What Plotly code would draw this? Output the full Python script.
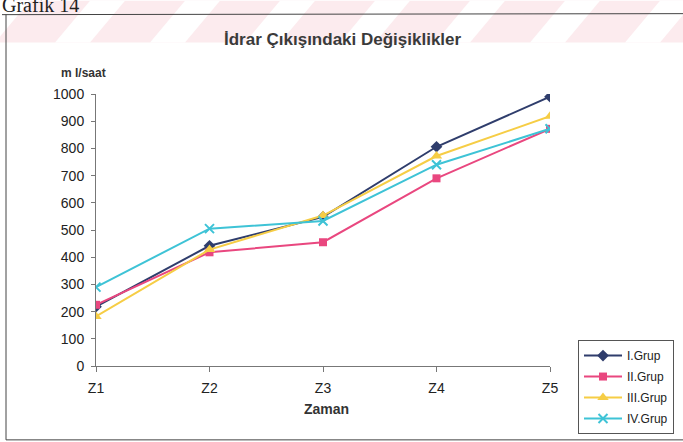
import plotly.graph_objects as go

# ---- data ----
zaman = ["Z1", "Z2", "Z3", "Z4", "Z5"]
grup_1 = [218, 442, 548, 806, 990]
grup_2 = [225, 418, 455, 690, 872]
grup_3 = [182, 428, 553, 772, 918]
grup_4 = [290, 505, 533, 740, 872]
y_ticks = [0, 100, 200, 300, 400, 500, 600, 700, 800, 900, 1000]

series = [
    ("I.Grup", grup_1, "#2f3d6c", "diamond", 9),
    ("II.Grup", grup_2, "#e9477f", "square", 8),
    ("III.Grup", grup_3, "#f6cd45", "triangle-up", 10),
    ("IV.Grup", grup_4, "#3ec3d6", "x-thin-open", 9),
]

W, H = 683, 442
L, R, T, B = 96, 550, 93.5, 366  # plot area in pixels


def px(x):
    return (x - L) / (R - L)


def py(y):
    return (B - y) / (B - T)


fig = go.Figure()
xs = list(range(len(zaman)))
for name, vals, col, sym, size in series:
    marker = dict(symbol=sym, size=size, color=col)
    if sym == "x-thin-open":
        marker["line"] = dict(color=col, width=2)
    fig.add_trace(go.Scatter(
        x=xs, y=vals, name=name, mode="lines+markers",
        line=dict(color=col, width=2), marker=marker, legendgroup=name,
    ))

shapes = []
# faint pink diagonal band across the top of the page
band = "#fcebee"
shapes.append(dict(type="rect", xref="paper", yref="paper",
                   x0=px(0), x1=px(W), y0=py(42), y1=py(0),
                   fillcolor=band, line=dict(width=0), layer="below"))
for x0 in range(-40, 700, 95):
    path = (f"M {px(x0)},{py(42)} L {px(x0 + 35)},{py(42)} "
            f"L {px(x0 + 70)},{py(0)} L {px(x0 + 35)},{py(0)} Z")
    shapes.append(dict(type="path", xref="paper", yref="paper", path=path,
                       fillcolor="white", line=dict(width=0), layer="below"))
# chart frame
frame = dict(color="#444", width=1)
shapes.append(dict(type="line", xref="paper", yref="paper",
                   x0=px(2), x1=px(W), y0=py(14), y1=py(13), line=frame))
shapes.append(dict(type="line", xref="paper", yref="paper",
                   x0=px(6), x1=px(6), y0=py(14), y1=py(440), line=frame))
shapes.append(dict(type="line", xref="paper", yref="paper",
                   x0=px(6), x1=px(W), y0=py(440), y1=py(440), line=frame))

annotations = [
    dict(text="<b>İdrar Çıkışındaki Değişiklikler</b>", x=px(343), y=py(39),
         xref="paper", yref="paper", showarrow=False,
         font=dict(family="Liberation Sans", size=17, color="#3a3a3a"),
         xanchor="center", yanchor="middle"),
    dict(text="<b>m l/saat</b>", x=px(83), y=py(72), xref="paper", yref="paper",
         showarrow=False, font=dict(family="Liberation Sans", size=12, color="#333"),
         xanchor="center", yanchor="middle"),
    dict(text="<b>Zaman</b>", x=px(326), y=py(409), xref="paper", yref="paper",
         showarrow=False, font=dict(family="Liberation Sans", size=14, color="#333"),
         xanchor="center", yanchor="middle"),
    dict(text="Grafik 14", x=px(0), y=py(4), xref="paper", yref="paper",
         showarrow=False, font=dict(family="Liberation Serif", size=20, color="#222"),
         xanchor="left", yanchor="middle"),
]

fig.update_layout(
    width=W, height=H, autosize=False,
    margin=dict(l=L, r=W - R, t=T, b=H - B, pad=0, autoexpand=False),
    paper_bgcolor="white", plot_bgcolor="white",
    font=dict(family="Liberation Sans", size=14, color="#222"),
    showlegend=True,
    legend=dict(x=px(578), y=py(340), xanchor="left", yanchor="top",
                xref="paper", yref="paper",
                bordercolor="#555", borderwidth=1, bgcolor="white",
                font=dict(size=12, color="#222"), tracegroupgap=2,
                itemwidth=38),
    shapes=shapes, annotations=annotations,
)
fig.update_xaxes(range=[0, 4], tickvals=xs, ticktext=zaman, showgrid=False,
                 zeroline=False, showline=True, linecolor="#777", linewidth=1,
                 ticks="outside", ticklen=5, tickcolor="#777",
                 ticklabelstandoff=4, fixedrange=True)
fig.update_yaxes(range=[0, 1000], tickvals=y_ticks, showgrid=False,
                 zeroline=False, showline=True, linecolor="#777", linewidth=1,
                 ticks="outside", ticklen=4, tickcolor="#777",
                 ticklabelstandoff=4, fixedrange=True)

fig.write_html("out.html", config=dict(displayModeBar=False))
